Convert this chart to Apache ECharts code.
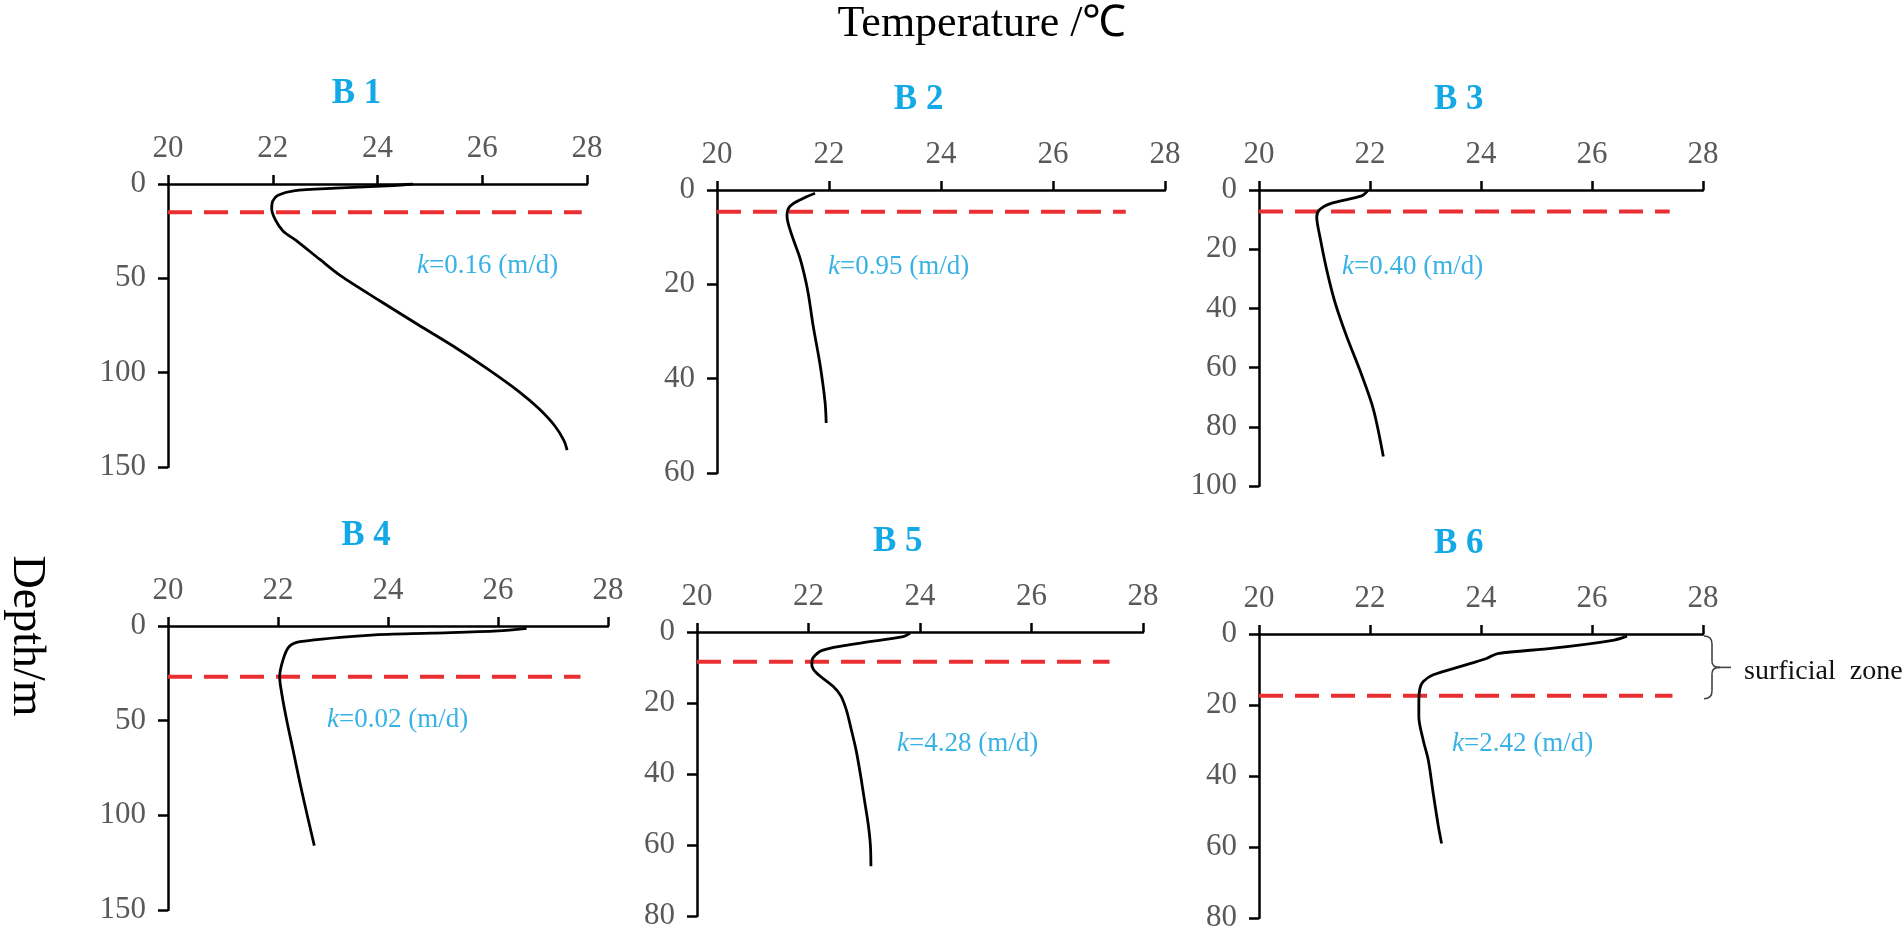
<!DOCTYPE html>
<html>
<head>
<meta charset="utf-8">
<title>Temperature profiles B1-B6</title>
<script src="https://cdn.jsdelivr.net/npm/echarts@6/dist/echarts.min.js"></script>
<style>
  html, body { margin: 0; padding: 0; background: #fff; }
  #main { width: 1902px; height: 934px; }
</style>
</head>
<body>
<div id="main"></div>
<script>
// temperature (°C) vs depth (m)
var names = ['B 1', 'B 2', 'B 3', 'B 4', 'B 5', 'B 6'];
var kValues = ['0.16', '0.95', '0.40', '0.02', '4.28', '2.42'];

var b1 = [[24.68,0],[24.3,0.8],[23.2,2.2],[22.4,3.6],[22.1,6],[22.0,9],[21.98,13],[22.05,19],[22.2,25],[22.45,30],[22.9,40],[23.3,48.7],[24.05,62],[24.8,75],[25.45,86],[26.1,98],[26.7,110],[27.08,119],[27.38,128],[27.56,136],[27.62,141]];
var b2 = [[21.75,0.7],[21.5,2],[21.3,3.5],[21.25,5.5],[21.27,7],[21.36,10.4],[21.47,14],[21.56,18],[21.63,22],[21.72,29],[21.84,37],[21.93,45],[21.95,49.4]];
var b3 = [[21.96,0.2],[21.85,2],[21.3,4.5],[21.1,6.5],[21.04,9],[21.1,16],[21.22,27],[21.37,38],[21.58,49.5],[21.82,61],[22.06,74],[22.24,90]];
var b4 = [[26.52,1.2],[26.0,2.6],[24.8,3.8],[23.7,4.8],[22.4,8.3],[22.2,11],[22.09,18],[22.03,27],[22.07,36],[22.16,50],[22.27,65],[22.4,83],[22.54,101],[22.66,116]];
var b5 = [[23.82,0.4],[23.7,1.3],[22.9,3.2],[22.26,5.1],[22.08,7.3],[22.06,9.2],[22.14,11.5],[22.44,15.3],[22.58,18],[22.68,22],[22.76,27],[22.85,33],[22.93,40],[23.0,47],[23.07,54],[23.11,60],[23.12,66]];
var b6 = [[26.63,0.6],[26.4,1.7],[25.3,4],[24.3,5.5],[24.1,6.9],[23.62,9.2],[23.14,11.5],[22.96,13.4],[22.9,15.3],[22.88,18.6],[22.88,23.3],[22.96,30],[23.05,35.5],[23.14,45],[23.23,54],[23.29,59]];
var profiles = [b1, b2, b3, b4, b5, b6];

// surficial zone bottom (red dashed line) and where the dash ends
var zoneDepth = [15, 4.6, 7.3, 26.8, 8.4, 17.4];
var zoneEnd = [27.9, 27.3, 27.4, 27.5, 27.4, 27.45];

// axes
var tempMin = 20, tempMax = 28, tempStep = 2;
var depthMax = [150, 60, 100, 150, 80, 80];
var depthStep = [50, 20, 20, 50, 20, 20];

// layout (px)
var grids = [
  { left: 168, top: 184, width: 419, height: 283 },
  { left: 717, top: 190, width: 448, height: 283 },
  { left: 1259, top: 190, width: 444, height: 296 },
  { left: 168, top: 626, width: 440, height: 284 },
  { left: 697, top: 632, width: 446, height: 284 },
  { left: 1259, top: 634, width: 444, height: 284 }
];
var kPos = [[417, 266], [828, 267], [1342, 267], [327, 720], [897, 744], [1452, 744]];

var serif = '"Liberation Serif", "Times New Roman", serif';
var titleBlue = '#13a8e6';
var kBlue = '#38b2e4';

var myChart = echarts.init(document.getElementById('main'));

var xAxis = [], yAxis = [], series = [], graphic = [];

grids.forEach(function (g, i) {
  xAxis.push({
    gridIndex: i, type: 'value', position: 'top',
    min: tempMin, max: tempMax, interval: tempStep,
    axisLine: { show: true, onZero: false, lineStyle: { color: '#000', width: 2.5 } },
    axisTick: { show: true, length: 9, lineStyle: { color: '#000', width: 2.5 } },
    axisLabel: { color: '#595959', fontSize: 31, fontFamily: serif, margin: 20 },
    splitLine: { show: false }
  });
  yAxis.push({
    gridIndex: i, type: 'value', inverse: true,
    min: 0, max: depthMax[i], interval: depthStep[i],
    axisLine: { show: true, onZero: false, lineStyle: { color: '#000', width: 2.5 } },
    axisTick: { show: true, length: 10, lineStyle: { color: '#000', width: 2.5 } },
    axisLabel: { color: '#595959', fontSize: 31, fontFamily: serif, margin: 22 },
    splitLine: { show: false }
  });
  series.push({
    type: 'line', xAxisIndex: i, yAxisIndex: i,
    data: profiles[i], smooth: 0.3, symbol: 'none',
    lineStyle: { color: '#000', width: 2.8 }, z: 3
  });
  series.push({
    type: 'line', xAxisIndex: i, yAxisIndex: i,
    data: [[tempMin, zoneDepth[i]], [zoneEnd[i], zoneDepth[i]]],
    symbol: 'none',
    lineStyle: { color: '#ea2f33', width: 4, type: [24, 12] }, z: 2
  });

  // panel title
  graphic.push({
    type: 'text', x: g.left + g.width * 3.6 / 8, y: g.top - 90,
    style: { text: names[i], fill: titleBlue, font: 'bold 35px ' + serif,
             align: 'center', verticalAlign: 'middle' }
  });
  // hydraulic conductivity note
  graphic.push({
    type: 'text', x: kPos[i][0], y: kPos[i][1],
    style: {
      text: '{i|k}=' + kValues[i] + ' (m/d)',
      fill: kBlue, fontSize: 27, fontFamily: serif, verticalAlign: 'middle',
      rich: { i: { fontStyle: 'italic', fill: kBlue, fontSize: 27, fontFamily: serif } }
    }
  });
});

graphic.push({
  type: 'text', x: 982, y: 24,
  style: { text: 'Temperature /\u2103', fill: '#000', font: '44px ' + serif,
           align: 'center', verticalAlign: 'middle' }
});
graphic.push({
  type: 'text', x: 26, y: 636, rotation: -Math.PI / 2,
  style: { text: 'Depth/m', fill: '#000', font: '46px ' + serif,
           align: 'center', verticalAlign: 'middle' }
});

// brace marking the surficial zone on B 6
var g6 = grids[5];
var bx = g6.left + g6.width + 1;
var by0 = g6.top + 2;
var by1 = g6.top + g6.height * zoneDepth[5] / depthMax[5] + 3;
var bym = (by0 + by1) / 2;
var braceStyle = { fill: null, stroke: '#444', lineWidth: 1.6 };
function curve(x1, y1, cx, cy, x2, y2) {
  return { type: 'bezierCurve', shape: { x1: x1, y1: y1, cpx1: cx, cpy1: cy, x2: x2, y2: y2 }, style: braceStyle };
}
function seg(x1, y1, x2, y2) {
  return { type: 'line', shape: { x1: x1, y1: y1, x2: x2, y2: y2 }, style: braceStyle };
}
graphic.push(curve(bx, by0, bx + 8, by0, bx + 8, by0 + 8));
graphic.push(seg(bx + 8, by0 + 8, bx + 8, bym - 6));
graphic.push(curve(bx + 8, bym - 6, bx + 8, bym, bx + 16, bym));
graphic.push(curve(bx + 16, bym, bx + 8, bym, bx + 8, bym + 6));
graphic.push(seg(bx + 8, bym + 6, bx + 8, by1 - 8));
graphic.push(curve(bx + 8, by1 - 8, bx + 8, by1, bx, by1));
graphic.push(seg(bx + 16, bym, bx + 27, bym));
graphic.push({
  type: 'text', x: bx + 40, y: bym + 4,
  style: { text: 'surficial  zone', fill: '#111', font: '28px ' + serif, verticalAlign: 'middle' }
});

myChart.setOption({
  backgroundColor: '#fff',
  animation: false,
  grid: grids,
  xAxis: xAxis,
  yAxis: yAxis,
  series: series,
  graphic: graphic
});
</script>
</body>
</html>
